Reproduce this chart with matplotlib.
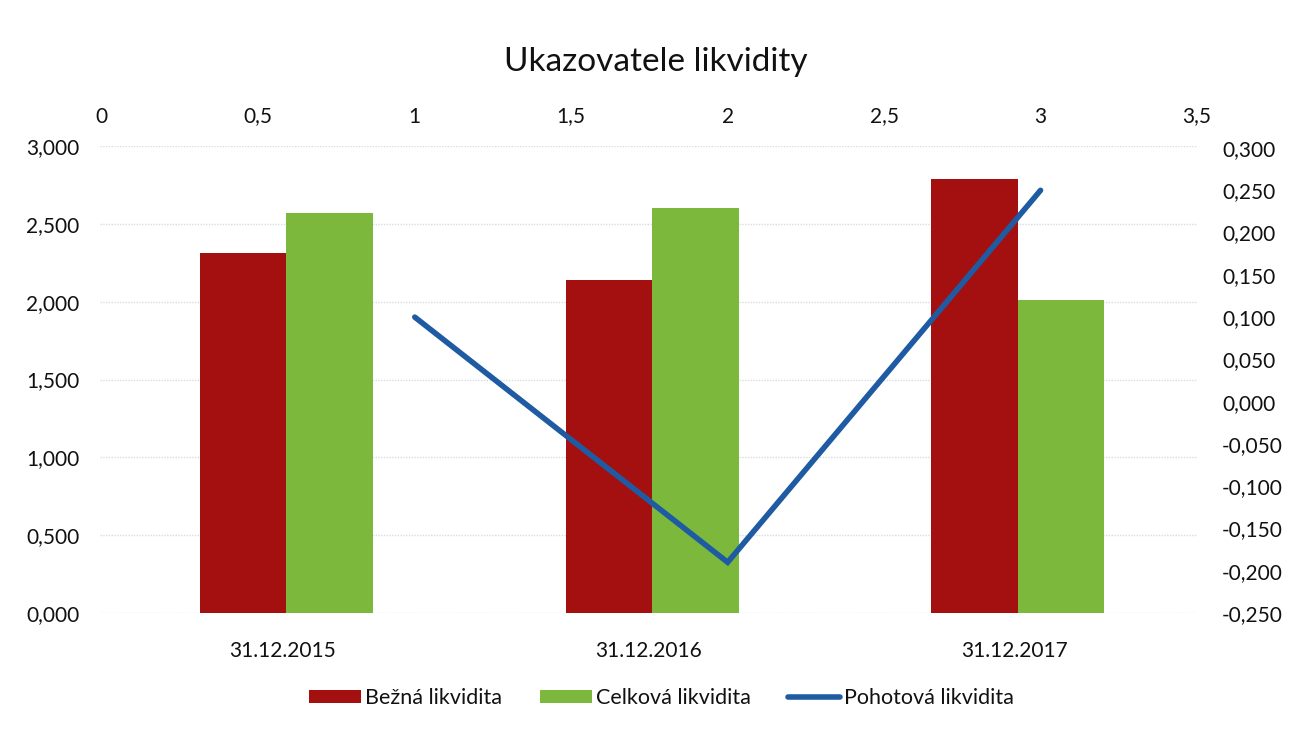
import matplotlib
matplotlib.use("Agg")
import matplotlib.pyplot as plt
from matplotlib.ticker import FuncFormatter, MultipleLocator
import numpy as np

plt.rcParams['font.family'] = ['Lato', 'DejaVu Sans']

categories = ["31.12.2015", "31.12.2016", "31.12.2017"]
bezna = [2.31, 2.14, 2.79]
celkova = [2.57, 2.60, 2.01]
pohotova_x = [1, 2, 3]
pohotova = [0.10, -0.19, 0.25]

title = "Ukazovatele likvidity"
labels = ["Bežná likvidita", "Celková likvidita", "Pohotová likvidita"]

red = "#A3100F"
green = "#7CB83B"
blue = "#1F5BA3"
txt = "#111111"


def fmt3(v, p=None):
    v = round(v, 6)
    if v == 0:
        v = 0.0
    return f"{v:.3f}".replace(".", ",")


fig = plt.figure(figsize=(12.9, 7.31), dpi=100)
fig.patch.set_facecolor("white")

ax = fig.add_axes([100/1290, 1-613/731, 1097/1290, 467/731])
x = np.arange(len(categories))
w = 0.2366
b1 = ax.bar(x - w/2 + 0.01, bezna, w, color=red, label=labels[0], zorder=2)
b2 = ax.bar(x + w/2 + 0.01, celkova, w, color=green, label=labels[1], zorder=2)
ax.set_xlim(-0.5, 2.5)
ax.set_ylim(0, 3.0)
ax.yaxis.set_major_locator(MultipleLocator(0.5))
ax.yaxis.set_major_formatter(FuncFormatter(fmt3))
ax.set_xticks(x)
ax.set_xticklabels(categories)
ax.grid(axis='y', color="#d6dce8", linestyle=(0, (1, 1)), linewidth=1.0, zorder=0)
for s in ax.spines.values():
    s.set_visible(False)
ax.tick_params(axis='both', length=0, labelsize=15, colors=txt)
ax.tick_params(axis='y', pad=15)
ax.tick_params(axis='x', pad=20)

ax2 = ax.twinx()
ax2.set_ylim(-0.25, 0.3024)
ax2.set_yticks(np.round(np.arange(-0.25, 0.301, 0.05), 3))
ax2.yaxis.set_major_formatter(FuncFormatter(fmt3))
ax2.tick_params(axis='y', length=0, labelsize=15, colors=txt, pad=18)
for s in ax2.spines.values():
    s.set_visible(False)

ax3 = ax2.twiny()
ax3.set_xlim(-0.006, 3.5)
ax3.set_xticks(np.arange(0, 3.51, 0.5))
ax3.xaxis.set_major_formatter(FuncFormatter(lambda v, p: (f"{v:g}").replace(".", ",")))
ax3.tick_params(axis='x', length=0, labelsize=15, colors=txt, pad=14)
for s in ax3.spines.values():
    s.set_visible(False)
l1, = ax3.plot(pohotova_x, pohotova, color=blue, linewidth=4, solid_capstyle='round',
               solid_joinstyle='miter', label=labels[2], zorder=3)

fig.text(0.508, 1-62/731, title, ha='center', va='center', fontsize=24, color=txt)

fig.legend(handles=[b1, b2, l1], labels=labels, loc='center',
           bbox_to_anchor=(0.513, 1-698/731), ncol=3, frameon=False,
           fontsize=15.5, handlelength=2.4, handleheight=0.6,
           columnspacing=1.75, handletextpad=0.2, labelcolor=txt)

fig.savefig("out.png", dpi=100, facecolor="white")
